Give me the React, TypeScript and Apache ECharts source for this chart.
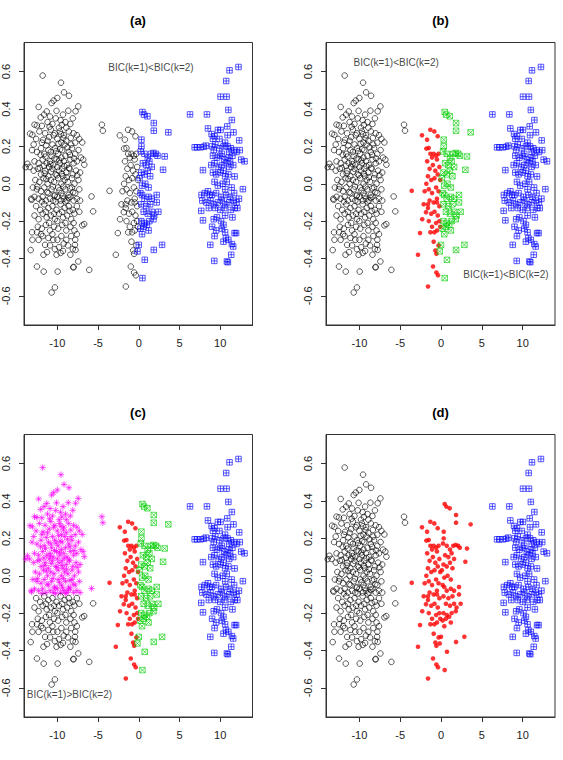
import React, { useEffect, useRef } from "react";
import * as echarts from "echarts";

// Axis ticks shared by all four panels
const xTicks = [-10, -5, 0, 5, 10];
const yTicks = [-0.6, -0.4, -0.2, 0, 0.2, 0.4, 0.6];
const panelTitles = ["(a)", "(b)", "(c)", "(d)"];

// Left cluster, upper part (y above about -0.1)
const leftUpper: number[][] = [
  [-11.8, 0.579], [-9.55, 0.541], [-9.18, 0.489], [-8.57, 0.471], [-10.0, 0.459], [-10.45, 0.445], [-10.7, 0.432],
  [-12.29, 0.411], [-7.43, 0.414], [-7.76, 0.388], [-8.65, 0.391], [-11.3, 0.387], [-11.63, 0.37], [-12.04, 0.355],
  [-4.53, 0.316], [-4.41, 0.284], [-12.8, 0.316], [-12.5, 0.312], [-13.35, 0.268], [-13.06, 0.262], [-6.94, 0.221],
  [-13.67, 0.107], [-13.88, 0.089], [-6.82, 0.129], [-6.69, 0.102], [-5.8, -0.068], [-13.2, -0.08], [-13.15, -0.086],
  [-10.9, 0.36], [-10.2, 0.35], [-9.6, 0.34], [-9.0, 0.33], [-8.4, 0.32], [-11.2, 0.33], [-10.6, 0.32], [-9.8, 0.3],
  [-8.9, 0.3], [-11.9, 0.31], [-10.1, 0.39], [-9.3, 0.37], [-8.1, 0.35],
  [-12.2, 0.28], [-11.5, 0.27], [-10.8, 0.29], [-10.3, 0.27], [-9.7, 0.28], [-9.2, 0.26], [-8.6, 0.28], [-8.0, 0.27],
  [-7.6, 0.26], [-12.6, 0.24], [-11.9, 0.22], [-11.2, 0.23], [-10.6, 0.21], [-10.0, 0.24], [-9.5, 0.22], [-8.9, 0.23],
  [-8.3, 0.21], [-7.8, 0.22], [-12.9, 0.21], [-11.0, 0.25], [-9.1, 0.21], [-7.3, 0.24],
  [-13.1, 0.18], [-12.5, 0.17], [-12.0, 0.19], [-11.6, 0.16], [-11.1, 0.18], [-10.7, 0.15], [-10.3, 0.19], [-9.9, 0.16],
  [-9.4, 0.18], [-9.0, 0.15], [-8.6, 0.17], [-8.2, 0.19], [-7.8, 0.16], [-7.4, 0.18], [-12.8, 0.12], [-12.3, 0.11],
  [-11.8, 0.13], [-11.3, 0.11], [-10.9, 0.12], [-10.5, 0.1], [-10.1, 0.13], [-9.7, 0.11], [-9.2, 0.12], [-8.8, 0.1],
  [-8.4, 0.13], [-8.0, 0.11], [-7.6, 0.12], [-7.1, 0.14], [-9.5, 0.14], [-10.8, 0.17],
  [-13.4, 0.09], [-12.9, 0.07], [-12.4, 0.08], [-12.0, 0.05], [-11.5, 0.07], [-11.1, 0.04], [-10.6, 0.08], [-10.2, 0.05],
  [-9.8, 0.07], [-9.3, 0.04], [-8.9, 0.06], [-8.5, 0.08], [-8.1, 0.05], [-7.7, 0.07], [-7.2, 0.06], [-12.7, 0.02],
  [-12.2, 0.01], [-11.7, 0.03], [-11.2, 0.0], [-10.8, 0.02], [-10.4, 0.01], [-9.9, 0.03], [-9.5, 0.0], [-9.1, 0.02],
  [-8.7, 0.01], [-8.2, 0.03], [-7.9, 0.0], [-7.4, 0.02], [-10.0, 0.09], [-9.4, 0.08], [-11.0, 0.09],
  [-13.0, -0.02], [-12.5, -0.03], [-12.0, -0.04], [-11.6, -0.02], [-11.1, -0.05], [-10.7, -0.03], [-10.3, -0.06],
  [-9.9, -0.02], [-9.5, -0.05], [-9.0, -0.03], [-8.6, -0.06], [-8.2, -0.02], [-7.8, -0.05], [-7.3, -0.03],
  [-12.8, -0.07], [-12.3, -0.08], [-11.8, -0.07], [-11.4, -0.09], [-10.9, -0.08], [-10.5, -0.09], [-10.0, -0.07],
  [-9.6, -0.09], [-9.2, -0.08], [-8.8, -0.09], [-8.4, -0.07], [-8.0, -0.09], [-7.6, -0.08], [-7.2, -0.09],
  [-11.9, -0.095], [-10.2, -0.095], [-9.0, -0.095],
  [-10.45, 0.26], [-9.85, 0.215], [-9.25, 0.245], [-8.75, 0.195], [-11.35, 0.205], [-10.15, 0.175], [-9.65, 0.185],
  [-8.45, 0.155], [-11.45, 0.145], [-10.35, 0.135], [-9.75, 0.125], [-9.15, 0.095], [-8.55, 0.085], [-11.65, 0.095],
  [-10.75, 0.065], [-10.05, 0.045], [-9.45, 0.055], [-8.85, 0.035], [-11.35, 0.025], [-10.55, -0.015], [-9.75, -0.035],
  [-9.25, -0.015], [-8.45, -0.025], [-11.25, -0.045], [-10.35, -0.065], [-9.35, -0.065], [-8.65, -0.075],
  [-11.55, 0.055], [-10.85, 0.105], [-9.55, 0.265], [-8.35, 0.245], [-10.95, 0.305], [-9.45, 0.315], [-12.15, 0.085],
  [-12.45, -0.015], [-7.95, 0.135], [-7.55, 0.045], [-12.05, 0.155], [-11.75, 0.235], [-8.05, -0.045],
];

// Left cluster, lower part
const leftLower: number[][] = [
  [-5.6, -0.148], [-6.7, -0.216], [-6.94, -0.223], [-13.1, -0.26], [-12.5, -0.26], [-13.06, -0.3], [-12.3, -0.3],
  [-13.27, -0.355], [-11.5, -0.327], [-11.27, -0.366], [-11.7, -0.38], [-12.5, -0.443], [-11.67, -0.47], [-9.96, -0.47],
  [-10.3, -0.555], [-10.7, -0.582], [-8.04, -0.448], [-8.0, -0.445], [-7.43, -0.416], [-6.08, -0.461], [-7.76, -0.354],
  [-7.84, -0.327],
  [-12.6, -0.12], [-12.1, -0.14], [-11.6, -0.11], [-11.1, -0.13], [-10.6, -0.12], [-10.1, -0.14], [-9.6, -0.11],
  [-9.1, -0.13], [-8.6, -0.12], [-8.1, -0.14], [-7.6, -0.12], [-7.3, -0.15],
  [-12.8, -0.17], [-12.3, -0.19], [-11.8, -0.16], [-11.3, -0.18], [-10.8, -0.17], [-10.3, -0.19], [-9.8, -0.16],
  [-9.3, -0.18], [-8.8, -0.17], [-8.3, -0.19], [-7.9, -0.16],
  [-12.4, -0.23], [-11.9, -0.24], [-11.4, -0.22], [-10.9, -0.25], [-10.4, -0.23], [-9.9, -0.24], [-9.4, -0.22],
  [-8.9, -0.25], [-8.4, -0.23], [-7.9, -0.25],
  [-11.8, -0.28], [-11.1, -0.29], [-10.6, -0.27], [-10.0, -0.3], [-9.5, -0.28], [-8.9, -0.3], [-8.3, -0.28], [-7.8, -0.3],
  [-10.9, -0.33], [-10.3, -0.35], [-9.8, -0.34], [-9.3, -0.36], [-8.7, -0.33], [-8.1, -0.35], [-10.1, -0.38],
  [-9.6, -0.37], [-8.4, -0.38],
  [-11.4, -0.15], [-10.4, -0.16], [-9.4, -0.15], [-8.5, -0.145], [-11.0, -0.21], [-10.0, -0.2], [-9.0, -0.21],
  [-8.0, -0.21], [-10.5, -0.3], [-9.2, -0.32], [-12.0, -0.27], [-7.6, -0.27],
];

// Middle cluster, left sub-group
const midLeft: number[][] = [
  [-3.59, -0.038], [-2.82, -0.38], [-1.59, -0.55], [-0.98, -0.443], [-0.57, -0.475], [-0.37, -0.49], [-0.69, -0.357],
  [-0.57, -0.375], [-2.33, 0.259], [-1.71, 0.236], [-1.51, 0.191], [-1.8, 0.188], [-1.31, 0.289], [-0.82, 0.28],
  [-0.41, 0.254], [-2.57, -0.264],
  [-1.3, 0.16], [-0.9, 0.16], [-0.6, 0.15], [-0.3, 0.16], [-1.1, 0.14], [-0.5, 0.13],
  [-1.4, 0.08], [-1.0, 0.1], [-0.7, 0.07], [-0.2, 0.09],
  [-1.6, 0.04], [-1.2, 0.02], [-0.8, 0.03], [-0.4, 0.05], [-0.1, 0.02],
  [-2.0, -0.04], [-1.5, -0.03], [-1.1, -0.05], [-0.6, -0.02], [-0.3, -0.04], [-1.8, 0.0],
  [-2.12, -0.11], [-1.4, -0.09], [-0.9, -0.1], [-0.5, -0.08], [-0.2, -0.12],
  [-1.84, -0.152], [-1.6, -0.13], [-1.2, -0.16], [-0.8, -0.15], [-0.4, -0.17],
  [-1.5, -0.2], [-1.1, -0.23], [-0.6, -0.21], [-0.2, -0.2],
  [-1.3, -0.26], [-0.82, -0.26], [-0.5, -0.25], [-0.1, -0.23],
  [-0.9, -0.31], [-0.3, -0.33], [-1.6, -0.11], [-2.3, -0.19], [-0.5, -0.1], [-1.7, 0.12],
];

// Middle cluster, right sub-group
const midRight: number[][] = [
  [0.45, 0.384], [0.65, 0.37], [1.06, 0.361], [1.84, 0.325], [1.84, 0.284], [3.63, 0.275], [3.18, 0.146],
  [2.98, 0.075], [0.33, 0.236], [0.33, 0.2], [0.24, 0.173], [0.0, -0.327], [-0.16, -0.362], [0.73, -0.407],
  [1.84, -0.354], [2.86, -0.327], [0.45, -0.505],
  [0.7, 0.16], [1.1, 0.14], [1.5, 0.16], [1.8, 0.165], [2.1, 0.16], [2.3, 0.15],
  [0.5, 0.11], [0.9, 0.1], [1.3, 0.12], [1.6, 0.09],
  [0.3, 0.06], [0.7, 0.05], [1.1, 0.07], [1.4, 0.04], [0.1, 0.03],
  [0.4, -0.01], [0.8, 0.0], [1.2, -0.02], [0.2, -0.05],
  [0.4, -0.06], [0.7, -0.08], [1.2, -0.07], [1.6, -0.08], [2.2, -0.06], [0.3, -0.11], [0.9, -0.12], [1.4, -0.11],
  [2.2, -0.1], [0.6, -0.15], [1.1, -0.16], [1.6, -0.15], [1.9, -0.17], [2.4, -0.15], [0.3, -0.2], [0.7, -0.21],
  [1.3, -0.2], [1.8, -0.19], [0.2, -0.24], [0.6, -0.23], [1.2, -0.25], [0.4, -0.27], [1.0, -0.22],
];

// Right cluster
const rightCluster: number[][] = [
  [12.24, 0.625], [11.14, 0.607], [10.73, 0.55], [10.04, 0.466], [10.78, 0.466], [11.0, 0.395], [6.29, 0.371],
  [8.37, 0.371], [11.43, 0.341], [8.49, 0.296], [9.71, 0.288], [10.04, 0.288], [10.86, 0.307], [11.63, 0.275],
  [8.94, 0.266], [9.31, 0.254], [9.1, 0.241], [12.33, 0.232], [6.86, 0.195], [7.14, 0.195], [7.59, 0.195],
  [8.0, 0.198], [8.24, 0.204], [12.57, 0.129], [12.98, 0.12], [11.76, 0.039], [12.78, -0.029], [7.88, 0.073],
  [7.67, -0.145], [7.88, -0.196], [8.78, -0.327], [11.76, -0.264], [11.95, -0.264], [11.43, -0.323], [11.59, -0.336],
  [11.35, -0.38], [9.27, -0.413], [10.82, -0.416], [10.94, -0.42], [12.3, -0.08], [12.4, 0.18], [12.1, -0.13],
  [9.0, 0.2], [9.4, 0.21], [9.9, 0.19], [10.4, 0.2], [10.9, 0.2], [11.3, 0.19], [11.7, 0.18], [11.1, 0.17], [10.6, 0.22],
  [9.1, 0.15], [9.6, 0.14], [10.0, 0.15], [10.5, 0.13], [11.0, 0.14], [11.5, 0.15], [11.2, 0.12],
  [8.9, 0.1], [9.3, 0.11], [9.8, 0.09], [10.2, 0.1], [10.7, 0.11], [11.1, 0.09], [10.4, 0.07],
  [9.1, 0.06], [9.5, 0.05], [10.0, 0.06], [10.6, 0.04], [11.0, 0.05], [10.8, 0.01],
  [9.3, 0.01], [9.7, -0.01], [10.3, 0.0], [11.4, -0.02], [10.6, -0.03],
  [7.7, -0.06], [8.1, -0.05], [8.5, -0.04], [9.0, -0.06], [9.5, -0.05], [10.1, -0.07], [10.7, -0.06], [11.2, -0.07],
  [11.7, -0.05], [7.8, -0.09], [8.3, -0.1], [8.8, -0.09], [9.2, -0.11], [9.7, -0.1], [10.2, -0.09], [10.6, -0.11],
  [11.1, -0.1], [11.6, -0.09], [12.0, -0.1], [8.6, -0.13], [9.4, -0.13], [10.0, -0.14], [10.5, -0.13], [11.3, -0.14],
  [11.8, -0.13], [9.2, -0.19], [9.6, -0.18], [10.1, -0.2], [10.6, -0.17], [11.5, -0.18], [10.4, -0.22],
  [9.0, -0.23], [9.5, -0.25], [10.2, -0.24], [10.6, -0.26], [9.3, -0.28], [10.7, -0.29], [10.4, -0.31], [11.0, -0.3],
  [8.7, -0.06], [9.9, 0.24], [10.2, 0.16], [9.2, 0.18], [11.6, 0.1], [12.0, 0.17], [10.9, 0.26],
];

// Text notes placed in data coordinates of each panel
const notes = [
  { panel: 0, x: 1.5, y: 0.62, text: "BIC(k=1)<BIC(k=2)" },
  { panel: 1, x: -5.5, y: 0.65, text: "BIC(k=1)<BIC(k=2)" },
  { panel: 1, x: 7.95, y: -0.487, text: "BIC(k=1)<BIC(k=2)" },
  { panel: 2, x: -8.52, y: -0.636, text: "BIC(k=1)>BIC(k=2)" },
];

const FONT = "'Liberation Sans', Arial, Helvetica, sans-serif";
const X_MIN = -14.09;
const X_MAX = 13.96;
const Y_MIN = -0.756;
const Y_MAX = 0.756;
const PANEL_W = 229;
const PANEL_H = 282.5;
const panelBoxes = [
  { left: 23.5, top: 42.5 },
  { left: 326, top: 42.5 },
  { left: 23.5, top: 434.5 },
  { left: 326, top: 434.5 },
];

// Plotting symbols: square with plus, square with cross, asterisk
const SQUARE_PLUS = "path://M0,0L10,0L10,10L0,10Z M5,0L5,10 M0,5L10,5";
const SQUARE_CROSS = "path://M0,0L10,0L10,10L0,10Z M0,0L10,10 M10,0L0,10";
const ASTERISK = "path://M5,0L5,10 M0,5L10,5 M1.6,1.6L8.4,8.4 M8.4,1.6L1.6,8.4";

const CLEAR = "rgba(0,0,0,0)";
const openCircle = { symbol: "circle", symbolSize: 5.6, itemStyle: { color: CLEAR, borderColor: "#000", borderWidth: 0.8 } };
const blueSquare = { symbol: SQUARE_PLUS, symbolSize: 5.5, itemStyle: { color: CLEAR, borderColor: "#0000ff", borderWidth: 0.8 } };
const greenSquare = { symbol: SQUARE_CROSS, symbolSize: 5.5, itemStyle: { color: CLEAR, borderColor: "#00cd00", borderWidth: 0.8 } };
const redDot = { symbol: "circle", symbolSize: 4.6, itemStyle: { color: "#ff0000", borderWidth: 0 } };
const magentaStar = { symbol: ASTERISK, symbolSize: 6.5, itemStyle: { color: CLEAR, borderColor: "#ff00ff", borderWidth: 0.8 } };

const leftAll = [...leftUpper, ...leftLower];
const midAll = [...midLeft, ...midRight];

// What each panel draws, in drawing order
const panelLayers: [number[][], any][][] = [
  [[leftAll, openCircle], [midLeft, openCircle], [midRight, blueSquare], [rightCluster, blueSquare]],
  [[leftAll, openCircle], [midLeft, redDot], [midRight, greenSquare], [rightCluster, blueSquare]],
  [[leftUpper, magentaStar], [leftLower, openCircle], [midLeft, redDot], [midRight, greenSquare], [rightCluster, blueSquare]],
  [[leftAll, openCircle], [midAll, redDot], [rightCluster, blueSquare]],
];

const fmtX = (v: number) => (v < 0 ? "-" : "") + String(Math.abs(v));
const fmtY = (v: number) => (v < -1e-9 ? "-" : "") + Math.abs(v).toFixed(1);

function buildOption() {
  const grid = panelBoxes.map((b) => ({
    left: b.left,
    top: b.top,
    width: PANEL_W,
    height: PANEL_H,
    show: true,
    borderColor: "#333",
    borderWidth: 1,
    backgroundColor: "transparent",
  }));
  const xAxis = panelBoxes.map((_, i) => ({
    gridIndex: i,
    type: "value",
    min: X_MIN,
    max: X_MAX,
    axisLine: { show: true, onZero: false, lineStyle: { color: "#333", width: 1 } },
    axisTick: { show: true, length: 5, customValues: xTicks, lineStyle: { color: "#333", width: 1 } },
    axisLabel: {
      customValues: xTicks,
      formatter: fmtX,
      fontSize: 11,
      fontFamily: FONT,
      color: "#222",
      margin: 12,
    },
    splitLine: { show: false },
  }));
  const yAxis = panelBoxes.map((_, i) => ({
    gridIndex: i,
    type: "value",
    min: Y_MIN,
    max: Y_MAX,
    axisLine: { show: true, onZero: false, lineStyle: { color: "#333", width: 1 } },
    axisTick: { show: true, length: 5, customValues: yTicks, lineStyle: { color: "#333", width: 1 } },
    axisLabel: {
      customValues: yTicks,
      formatter: fmtY,
      rotate: 90,
      fontSize: 11,
      fontFamily: FONT,
      color: "#222",
      margin: 13,
    },
    splitLine: { show: false },
  }));

  const series: any[] = [];
  panelLayers.forEach((layers, i) => {
    layers.forEach(([data, style]) => {
      series.push({
        type: "scatter",
        xAxisIndex: i,
        yAxisIndex: i,
        data,
        silent: true,
        ...style,
      });
    });
  });
  notes.forEach((n) => {
    series.push({
      type: "scatter",
      xAxisIndex: n.panel,
      yAxisIndex: n.panel,
      data: [[n.x, n.y]],
      symbolSize: 0,
      silent: true,
      label: {
        show: true,
        position: "inside",
        formatter: n.text,
        fontSize: 10,
        fontFamily: FONT,
        color: "#111",
      },
    });
  });

  const graphic = panelBoxes.map((b, i) => ({
    type: "text",
    x: b.left + PANEL_W / 2,
    y: b.top - 22.5,
    silent: true,
    style: {
      text: panelTitles[i],
      textAlign: "center",
      textVerticalAlign: "middle",
      font: `bold 13px ${FONT}`,
      fill: "#000",
    },
  }));

  return {
    animation: false,
    backgroundColor: "#ffffff",
    grid,
    xAxis,
    yAxis,
    series,
    graphic,
  };
}

export default function App() {
  const ref = useRef<HTMLDivElement>(null);
  useEffect(() => {
    if (!ref.current) return;
    const chart = echarts.init(ref.current, undefined, { renderer: "svg" });
    chart.setOption(buildOption() as any);
    return () => chart.dispose();
  }, []);
  return (
    <div
      ref={ref}
      style={{ position: "absolute", left: 0, top: 0, width: 563, height: 760 }}
    />
  );
}
